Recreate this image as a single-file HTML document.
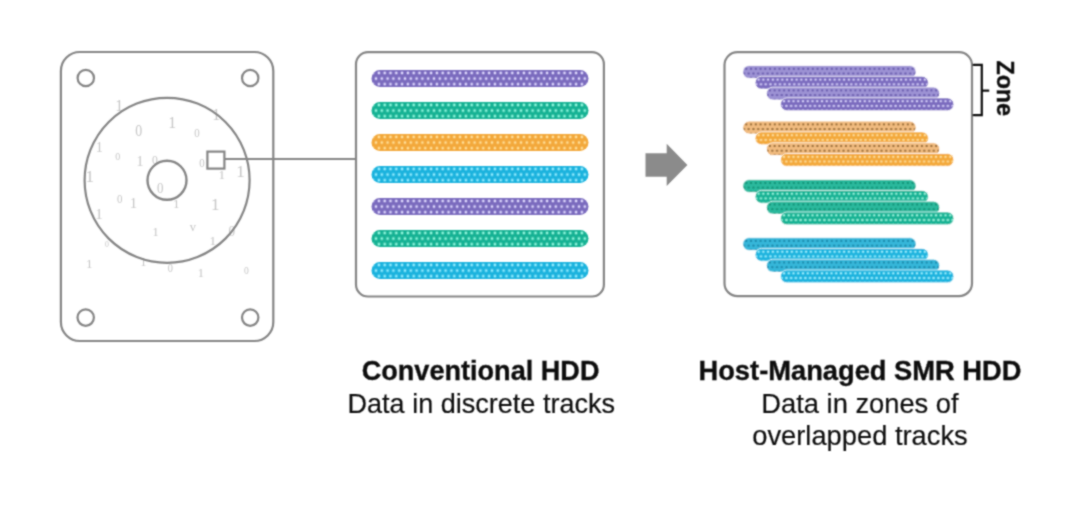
<!DOCTYPE html>
<html><head><meta charset="utf-8">
<style>
html,body{margin:0;padding:0;background:#fff;width:1080px;height:506px;overflow:hidden}
svg{position:absolute;left:0;top:0}
.t{position:absolute;font-family:"Liberation Sans",sans-serif;font-size:27.3px;color:#111111;text-align:center;white-space:nowrap;line-height:32px}
.b{font-weight:bold;-webkit-text-stroke:0.35px #111111}
.r{-webkit-text-stroke:0.2px #111111}
</style></head><body>
<svg width="1080" height="506" viewBox="0 0 1080 506">
<defs><filter id="bl" x="0" y="0" width="1080" height="506" filterUnits="userSpaceOnUse"><feConvolveMatrix order="3" kernelMatrix="1 2 1 2 8 2 1 2 1" divisor="20" edgeMode="none"/></filter><pattern id="cp0" patternUnits="userSpaceOnUse" x="378.9" y="73.0" width="5.8" height="11.2"><circle cx="0.000" cy="0.000" r="1.3" fill="#ddd6fe"/><circle cx="5.800" cy="0.000" r="1.3" fill="#ddd6fe"/><circle cx="0.000" cy="11.200" r="1.3" fill="#ddd6fe"/><circle cx="5.800" cy="11.200" r="1.3" fill="#ddd6fe"/><circle cx="2.900" cy="5.600" r="1.3" fill="#ddd6fe"/></pattern><pattern id="cp1" patternUnits="userSpaceOnUse" x="378.9" y="105.0" width="5.8" height="11.2"><circle cx="0.000" cy="0.000" r="1.3" fill="#8af8de"/><circle cx="5.800" cy="0.000" r="1.3" fill="#8af8de"/><circle cx="0.000" cy="11.200" r="1.3" fill="#8af8de"/><circle cx="5.800" cy="11.200" r="1.3" fill="#8af8de"/><circle cx="2.900" cy="5.600" r="1.3" fill="#8af8de"/></pattern><pattern id="cp2" patternUnits="userSpaceOnUse" x="378.9" y="137.0" width="5.8" height="11.2"><circle cx="0.000" cy="0.000" r="1.3" fill="#ffe096"/><circle cx="5.800" cy="0.000" r="1.3" fill="#ffe096"/><circle cx="0.000" cy="11.200" r="1.3" fill="#ffe096"/><circle cx="5.800" cy="11.200" r="1.3" fill="#ffe096"/><circle cx="2.900" cy="5.600" r="1.3" fill="#ffe096"/></pattern><pattern id="cp3" patternUnits="userSpaceOnUse" x="378.9" y="169.0" width="5.8" height="11.2"><circle cx="0.000" cy="0.000" r="1.3" fill="#8eedff"/><circle cx="5.800" cy="0.000" r="1.3" fill="#8eedff"/><circle cx="0.000" cy="11.200" r="1.3" fill="#8eedff"/><circle cx="5.800" cy="11.200" r="1.3" fill="#8eedff"/><circle cx="2.900" cy="5.600" r="1.3" fill="#8eedff"/></pattern><pattern id="cp4" patternUnits="userSpaceOnUse" x="378.9" y="201.0" width="5.8" height="11.2"><circle cx="0.000" cy="0.000" r="1.3" fill="#ddd6fe"/><circle cx="5.800" cy="0.000" r="1.3" fill="#ddd6fe"/><circle cx="0.000" cy="11.200" r="1.3" fill="#ddd6fe"/><circle cx="5.800" cy="11.200" r="1.3" fill="#ddd6fe"/><circle cx="2.900" cy="5.600" r="1.3" fill="#ddd6fe"/></pattern><pattern id="cp5" patternUnits="userSpaceOnUse" x="378.9" y="233.0" width="5.8" height="11.2"><circle cx="0.000" cy="0.000" r="1.3" fill="#8af8de"/><circle cx="5.800" cy="0.000" r="1.3" fill="#8af8de"/><circle cx="0.000" cy="11.200" r="1.3" fill="#8af8de"/><circle cx="5.800" cy="11.200" r="1.3" fill="#8af8de"/><circle cx="2.900" cy="5.600" r="1.3" fill="#8af8de"/></pattern><pattern id="cp6" patternUnits="userSpaceOnUse" x="378.9" y="265.0" width="5.8" height="11.2"><circle cx="0.000" cy="0.000" r="1.3" fill="#8eedff"/><circle cx="5.800" cy="0.000" r="1.3" fill="#8eedff"/><circle cx="0.000" cy="11.200" r="1.3" fill="#8eedff"/><circle cx="5.800" cy="11.200" r="1.3" fill="#8eedff"/><circle cx="2.900" cy="5.600" r="1.3" fill="#8eedff"/></pattern><pattern id="sp00" patternUnits="userSpaceOnUse" x="746.3" y="68.8" width="4.75" height="9.4"><circle cx="0.000" cy="0.000" r="1.25" fill="#6a5cae"/><circle cx="4.750" cy="0.000" r="1.25" fill="#6a5cae"/><circle cx="0.000" cy="9.400" r="1.25" fill="#6a5cae"/><circle cx="4.750" cy="9.400" r="1.25" fill="#6a5cae"/><circle cx="2.375" cy="4.700" r="1.25" fill="#6a5cae"/></pattern><pattern id="sp01" patternUnits="userSpaceOnUse" x="758.6" y="79.6" width="4.75" height="9.4"><circle cx="0.000" cy="0.000" r="1.25" fill="#d0c9f6"/><circle cx="4.750" cy="0.000" r="1.25" fill="#d0c9f6"/><circle cx="0.000" cy="9.400" r="1.25" fill="#d0c9f6"/><circle cx="4.750" cy="9.400" r="1.25" fill="#d0c9f6"/><circle cx="2.375" cy="4.700" r="1.25" fill="#d0c9f6"/></pattern><pattern id="sp02" patternUnits="userSpaceOnUse" x="769.9" y="90.39999999999999" width="4.75" height="9.4"><circle cx="0.000" cy="0.000" r="1.25" fill="#6a5cae"/><circle cx="4.750" cy="0.000" r="1.25" fill="#6a5cae"/><circle cx="0.000" cy="9.400" r="1.25" fill="#6a5cae"/><circle cx="4.750" cy="9.400" r="1.25" fill="#6a5cae"/><circle cx="2.375" cy="4.700" r="1.25" fill="#6a5cae"/></pattern><pattern id="sp03" patternUnits="userSpaceOnUse" x="784.0" y="101.2" width="4.75" height="9.4"><circle cx="0.000" cy="0.000" r="1.25" fill="#d0c9f6"/><circle cx="4.750" cy="0.000" r="1.25" fill="#d0c9f6"/><circle cx="0.000" cy="9.400" r="1.25" fill="#d0c9f6"/><circle cx="4.750" cy="9.400" r="1.25" fill="#d0c9f6"/><circle cx="2.375" cy="4.700" r="1.25" fill="#d0c9f6"/></pattern><pattern id="sp10" patternUnits="userSpaceOnUse" x="746.3" y="124.39999999999999" width="4.75" height="9.4"><circle cx="0.000" cy="0.000" r="1.25" fill="#9a6e38"/><circle cx="4.750" cy="0.000" r="1.25" fill="#9a6e38"/><circle cx="0.000" cy="9.400" r="1.25" fill="#9a6e38"/><circle cx="4.750" cy="9.400" r="1.25" fill="#9a6e38"/><circle cx="2.375" cy="4.700" r="1.25" fill="#9a6e38"/></pattern><pattern id="sp11" patternUnits="userSpaceOnUse" x="758.6" y="135.20000000000002" width="4.75" height="9.4"><circle cx="0.000" cy="0.000" r="1.25" fill="#fcdc98"/><circle cx="4.750" cy="0.000" r="1.25" fill="#fcdc98"/><circle cx="0.000" cy="9.400" r="1.25" fill="#fcdc98"/><circle cx="4.750" cy="9.400" r="1.25" fill="#fcdc98"/><circle cx="2.375" cy="4.700" r="1.25" fill="#fcdc98"/></pattern><pattern id="sp12" patternUnits="userSpaceOnUse" x="769.9" y="146.0" width="4.75" height="9.4"><circle cx="0.000" cy="0.000" r="1.25" fill="#9a6e38"/><circle cx="4.750" cy="0.000" r="1.25" fill="#9a6e38"/><circle cx="0.000" cy="9.400" r="1.25" fill="#9a6e38"/><circle cx="4.750" cy="9.400" r="1.25" fill="#9a6e38"/><circle cx="2.375" cy="4.700" r="1.25" fill="#9a6e38"/></pattern><pattern id="sp13" patternUnits="userSpaceOnUse" x="784.0" y="156.8" width="4.75" height="9.4"><circle cx="0.000" cy="0.000" r="1.25" fill="#fcdc98"/><circle cx="4.750" cy="0.000" r="1.25" fill="#fcdc98"/><circle cx="0.000" cy="9.400" r="1.25" fill="#fcdc98"/><circle cx="4.750" cy="9.400" r="1.25" fill="#fcdc98"/><circle cx="2.375" cy="4.700" r="1.25" fill="#fcdc98"/></pattern><pattern id="sp20" patternUnits="userSpaceOnUse" x="746.3" y="182.9" width="4.75" height="9.4"><circle cx="0.000" cy="0.000" r="1.25" fill="#129478"/><circle cx="4.750" cy="0.000" r="1.25" fill="#129478"/><circle cx="0.000" cy="9.400" r="1.25" fill="#129478"/><circle cx="4.750" cy="9.400" r="1.25" fill="#129478"/><circle cx="2.375" cy="4.700" r="1.25" fill="#129478"/></pattern><pattern id="sp21" patternUnits="userSpaceOnUse" x="758.6" y="193.70000000000002" width="4.75" height="9.4"><circle cx="0.000" cy="0.000" r="1.25" fill="#90f0d8"/><circle cx="4.750" cy="0.000" r="1.25" fill="#90f0d8"/><circle cx="0.000" cy="9.400" r="1.25" fill="#90f0d8"/><circle cx="4.750" cy="9.400" r="1.25" fill="#90f0d8"/><circle cx="2.375" cy="4.700" r="1.25" fill="#90f0d8"/></pattern><pattern id="sp22" patternUnits="userSpaceOnUse" x="769.9" y="204.5" width="4.75" height="9.4"><circle cx="0.000" cy="0.000" r="1.25" fill="#129478"/><circle cx="4.750" cy="0.000" r="1.25" fill="#129478"/><circle cx="0.000" cy="9.400" r="1.25" fill="#129478"/><circle cx="4.750" cy="9.400" r="1.25" fill="#129478"/><circle cx="2.375" cy="4.700" r="1.25" fill="#129478"/></pattern><pattern id="sp23" patternUnits="userSpaceOnUse" x="784.0" y="215.3" width="4.75" height="9.4"><circle cx="0.000" cy="0.000" r="1.25" fill="#90f0d8"/><circle cx="4.750" cy="0.000" r="1.25" fill="#90f0d8"/><circle cx="0.000" cy="9.400" r="1.25" fill="#90f0d8"/><circle cx="4.750" cy="9.400" r="1.25" fill="#90f0d8"/><circle cx="2.375" cy="4.700" r="1.25" fill="#90f0d8"/></pattern><pattern id="sp30" patternUnits="userSpaceOnUse" x="746.3" y="240.9" width="4.75" height="9.4"><circle cx="0.000" cy="0.000" r="1.25" fill="#1a8aac"/><circle cx="4.750" cy="0.000" r="1.25" fill="#1a8aac"/><circle cx="0.000" cy="9.400" r="1.25" fill="#1a8aac"/><circle cx="4.750" cy="9.400" r="1.25" fill="#1a8aac"/><circle cx="2.375" cy="4.700" r="1.25" fill="#1a8aac"/></pattern><pattern id="sp31" patternUnits="userSpaceOnUse" x="758.6" y="251.70000000000002" width="4.75" height="9.4"><circle cx="0.000" cy="0.000" r="1.25" fill="#94ecfc"/><circle cx="4.750" cy="0.000" r="1.25" fill="#94ecfc"/><circle cx="0.000" cy="9.400" r="1.25" fill="#94ecfc"/><circle cx="4.750" cy="9.400" r="1.25" fill="#94ecfc"/><circle cx="2.375" cy="4.700" r="1.25" fill="#94ecfc"/></pattern><pattern id="sp32" patternUnits="userSpaceOnUse" x="769.9" y="262.5" width="4.75" height="9.4"><circle cx="0.000" cy="0.000" r="1.25" fill="#1a8aac"/><circle cx="4.750" cy="0.000" r="1.25" fill="#1a8aac"/><circle cx="0.000" cy="9.400" r="1.25" fill="#1a8aac"/><circle cx="4.750" cy="9.400" r="1.25" fill="#1a8aac"/><circle cx="2.375" cy="4.700" r="1.25" fill="#1a8aac"/></pattern><pattern id="sp33" patternUnits="userSpaceOnUse" x="784.0" y="273.3" width="4.75" height="9.4"><circle cx="0.000" cy="0.000" r="1.25" fill="#94ecfc"/><circle cx="4.750" cy="0.000" r="1.25" fill="#94ecfc"/><circle cx="0.000" cy="9.400" r="1.25" fill="#94ecfc"/><circle cx="4.750" cy="9.400" r="1.25" fill="#94ecfc"/><circle cx="2.375" cy="4.700" r="1.25" fill="#94ecfc"/></pattern></defs>
<g filter="url(#bl)">
<g font-family="Liberation Serif" fill="#c6c6c6" text-anchor="middle"><text transform="translate(119.3,110.8) scale(1.0,1)" font-size="15.8">1</text><text transform="translate(138.7,136.0) scale(0.88,1)" font-size="15.8">0</text><text transform="translate(172.2,128.0) scale(1.0,1)" font-size="15.8">1</text><text transform="translate(216.3,120.3) scale(1.0,1)" font-size="15.8">1</text><text transform="translate(197.0,137.4) scale(0.88,1)" font-size="12.4">0</text><text transform="translate(99.4,151.7) scale(1.0,1)" font-size="14.2">1</text><text transform="translate(117.8,160.0) scale(0.88,1)" font-size="11.4">0</text><text transform="translate(139.9,166.2) scale(1.0,1)" font-size="13.9">1</text><text transform="translate(154.8,163.9) scale(0.88,1)" font-size="13.2">0</text><text transform="translate(202.0,166.9) scale(0.88,1)" font-size="12.4">0</text><text transform="translate(221.9,178.8) scale(1.0,1)" font-size="13.2">1</text><text transform="translate(240.5,176.5) scale(1.0,1)" font-size="17.0">1</text><text transform="translate(89.8,181.9) scale(1.0,1)" font-size="17.0">1</text><text transform="translate(160.3,193.4) scale(0.88,1)" font-size="14.7">0</text><text transform="translate(119.8,203.3) scale(0.88,1)" font-size="12.4">0</text><text transform="translate(133.4,207.6) scale(1.0,1)" font-size="14.7">1</text><text transform="translate(176.4,208.1) scale(1.0,1)" font-size="13.2">1</text><text transform="translate(215.3,209.7) scale(1.0,1)" font-size="17.0">1</text><text transform="translate(99.1,219.3) scale(1.0,1)" font-size="15.0">1</text><text transform="translate(155.7,236.1) scale(1.0,1)" font-size="12.4">1</text><text transform="translate(192.8,230.7) scale(1.0,1)" font-size="12.4">v</text><text transform="translate(212.9,245.4) scale(1.0,1)" font-size="13.2">1</text><text transform="translate(231.7,235.7) scale(0.88,1)" font-size="15.0">0</text><text transform="translate(107.0,247.1) scale(0.88,1)" font-size="8.8">0</text><text transform="translate(89.3,268.3) scale(1.0,1)" font-size="13.2">1</text><text transform="translate(143.4,266.1) scale(1.0,1)" font-size="12.4">1</text><text transform="translate(170.4,271.6) scale(0.88,1)" font-size="11.7">0</text><text transform="translate(200.9,277.3) scale(1.0,1)" font-size="12.4">1</text><text transform="translate(246.5,274.2) scale(0.88,1)" font-size="10.9">0</text></g>
<g fill="none" stroke="#858585" stroke-width="2.2">
<rect x="60.9" y="52" width="212.4" height="289" rx="19"/>
<circle cx="85.8" cy="78" r="8.2"/>
<circle cx="250.2" cy="78" r="8.2"/>
<circle cx="85.7" cy="317.6" r="8.2"/>
<circle cx="250.2" cy="317.6" r="8.2"/>
<circle cx="167.1" cy="180.3" r="82.5"/>
<circle cx="167" cy="180.3" r="19.5" stroke-width="2.4"/>
<rect x="207.4" y="151.6" width="17" height="17"/>
<line x1="224.4" y1="159" x2="356" y2="159" stroke-width="1.8"/>
<rect x="356" y="52.2" width="247.9" height="244.3" rx="12"/>
<rect x="724.5" y="52.1" width="247.5" height="244.1" rx="13"/>
</g>
<polygon points="645.5,153.2 666.7,153.2 666.7,143.8 687.4,165 666.7,186 666.7,176.8 645.5,176.8" fill="#8b8b8b"/>
<rect x="371.5" y="70" width="217.0" height="17" rx="8.5" fill="#7a6bbe"/>
<rect x="371.5" y="70" width="217.0" height="17" rx="8.5" fill="url(#cp0)"/>
<rect x="371.5" y="102" width="217.0" height="17" rx="8.5" fill="#17b294"/>
<rect x="371.5" y="102" width="217.0" height="17" rx="8.5" fill="url(#cp1)"/>
<rect x="371.5" y="134" width="217.0" height="17" rx="8.5" fill="#f3a83a"/>
<rect x="371.5" y="134" width="217.0" height="17" rx="8.5" fill="url(#cp2)"/>
<rect x="371.5" y="166" width="217.0" height="17" rx="8.5" fill="#1ab3de"/>
<rect x="371.5" y="166" width="217.0" height="17" rx="8.5" fill="url(#cp3)"/>
<rect x="371.5" y="198" width="217.0" height="17" rx="8.5" fill="#7a6bbe"/>
<rect x="371.5" y="198" width="217.0" height="17" rx="8.5" fill="url(#cp4)"/>
<rect x="371.5" y="230" width="217.0" height="17" rx="8.5" fill="#17b294"/>
<rect x="371.5" y="230" width="217.0" height="17" rx="8.5" fill="url(#cp5)"/>
<rect x="371.5" y="262" width="217.0" height="17" rx="8.5" fill="#1ab3de"/>
<rect x="371.5" y="262" width="217.0" height="17" rx="8.5" fill="url(#cp6)"/>
<rect x="742.8" y="65.5" width="173.3" height="12.8" rx="6.4" fill="#9d93d4" stroke="#fff" stroke-opacity=".85" stroke-width="0.9"/>
<rect x="743.40" y="66.10" width="172.10" height="11.60" rx="5.80" fill="url(#sp00)"/>
<rect x="755.1" y="76.3" width="173.3" height="12.8" rx="6.4" fill="#7a6bbe" stroke="#fff" stroke-opacity=".85" stroke-width="0.9"/>
<rect x="755.70" y="76.90" width="172.10" height="11.60" rx="5.80" fill="url(#sp01)"/>
<rect x="766.4" y="87.1" width="173.3" height="12.8" rx="6.4" fill="#9d93d4" stroke="#fff" stroke-opacity=".85" stroke-width="0.9"/>
<rect x="767.00" y="87.70" width="172.10" height="11.60" rx="5.80" fill="url(#sp02)"/>
<rect x="780.5" y="97.9" width="173.3" height="12.8" rx="6.4" fill="#7a6bbe" stroke="#fff" stroke-opacity=".85" stroke-width="0.9"/>
<rect x="781.10" y="98.50" width="172.10" height="11.60" rx="5.80" fill="url(#sp03)"/>
<rect x="742.8" y="121.1" width="173.3" height="12.8" rx="6.4" fill="#f2bc80" stroke="#fff" stroke-opacity=".85" stroke-width="0.9"/>
<rect x="743.40" y="121.70" width="172.10" height="11.60" rx="5.80" fill="url(#sp10)"/>
<rect x="755.1" y="131.9" width="173.3" height="12.8" rx="6.4" fill="#f3a83a" stroke="#fff" stroke-opacity=".85" stroke-width="0.9"/>
<rect x="755.70" y="132.50" width="172.10" height="11.60" rx="5.80" fill="url(#sp11)"/>
<rect x="766.4" y="142.7" width="173.3" height="12.8" rx="6.4" fill="#f2bc80" stroke="#fff" stroke-opacity=".85" stroke-width="0.9"/>
<rect x="767.00" y="143.30" width="172.10" height="11.60" rx="5.80" fill="url(#sp12)"/>
<rect x="780.5" y="153.5" width="173.3" height="12.8" rx="6.4" fill="#f3a83a" stroke="#fff" stroke-opacity=".85" stroke-width="0.9"/>
<rect x="781.10" y="154.10" width="172.10" height="11.60" rx="5.80" fill="url(#sp13)"/>
<rect x="742.8" y="179.6" width="173.3" height="12.8" rx="6.4" fill="#2ab99d" stroke="#fff" stroke-opacity=".85" stroke-width="0.9"/>
<rect x="743.40" y="180.20" width="172.10" height="11.60" rx="5.80" fill="url(#sp20)"/>
<rect x="755.1" y="190.4" width="173.3" height="12.8" rx="6.4" fill="#17b294" stroke="#fff" stroke-opacity=".85" stroke-width="0.9"/>
<rect x="755.70" y="191.00" width="172.10" height="11.60" rx="5.80" fill="url(#sp21)"/>
<rect x="766.4" y="201.2" width="173.3" height="12.8" rx="6.4" fill="#2ab99d" stroke="#fff" stroke-opacity=".85" stroke-width="0.9"/>
<rect x="767.00" y="201.80" width="172.10" height="11.60" rx="5.80" fill="url(#sp22)"/>
<rect x="780.5" y="212.0" width="173.3" height="12.8" rx="6.4" fill="#17b294" stroke="#fff" stroke-opacity=".85" stroke-width="0.9"/>
<rect x="781.10" y="212.60" width="172.10" height="11.60" rx="5.80" fill="url(#sp23)"/>
<rect x="742.8" y="237.6" width="173.3" height="12.8" rx="6.4" fill="#36b7da" stroke="#fff" stroke-opacity=".85" stroke-width="0.9"/>
<rect x="743.40" y="238.20" width="172.10" height="11.60" rx="5.80" fill="url(#sp30)"/>
<rect x="755.1" y="248.4" width="173.3" height="12.8" rx="6.4" fill="#1ab3de" stroke="#fff" stroke-opacity=".85" stroke-width="0.9"/>
<rect x="755.70" y="249.00" width="172.10" height="11.60" rx="5.80" fill="url(#sp31)"/>
<rect x="766.4" y="259.2" width="173.3" height="12.8" rx="6.4" fill="#36b7da" stroke="#fff" stroke-opacity=".85" stroke-width="0.9"/>
<rect x="767.00" y="259.80" width="172.10" height="11.60" rx="5.80" fill="url(#sp32)"/>
<rect x="780.5" y="270.0" width="173.3" height="12.8" rx="6.4" fill="#1ab3de" stroke="#fff" stroke-opacity=".85" stroke-width="0.9"/>
<rect x="781.10" y="270.60" width="172.10" height="11.60" rx="5.80" fill="url(#sp33)"/>
<path d="M972.5,64.8 H981.8 V115.2 H972.5 M981.8,90.7 H989.2" fill="none" stroke="#111" stroke-width="2.2"/>
<text x="0" y="0" transform="translate(996.7,60.4) rotate(90)" font-family="Liberation Sans" font-weight="bold" font-size="23.3" fill="#111" stroke="#111" stroke-width="0.45">Zone</text>
<g font-family="Liberation Sans" fill="#111111" stroke="#111111" text-anchor="middle">
<text x="480.6" y="380" font-size="27.1" font-weight="bold" stroke-width="0.35">Conventional HDD</text>
<text x="481.3" y="413" font-size="27.05" stroke-width="0.2">Data in discrete tracks</text>
<text x="860" y="380" font-size="27.3" font-weight="bold" stroke-width="0.35">Host-Managed SMR HDD</text>
<text x="860" y="413" font-size="27.3" stroke-width="0.2">Data in zones of</text>
<text x="860" y="445" font-size="27.3" stroke-width="0.2">overlapped tracks</text>
</g>
</g></svg>
</body></html>
